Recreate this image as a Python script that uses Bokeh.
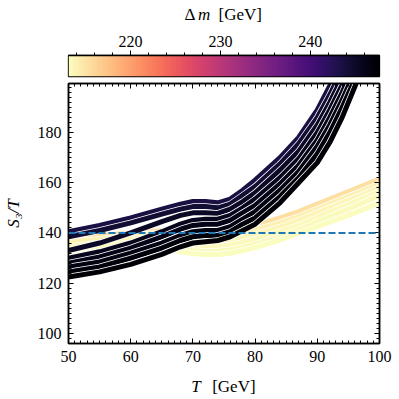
import numpy as np
from bokeh.plotting import figure
from bokeh.models import Range1d, FixedTicker, LinearAxis, Span, LinearColorMapper
from bokeh.core.properties import value
from bokeh.layouts import column
from bokeh.palettes import magma
from bokeh.embed import file_html
from bokeh.resources import INLINE

# ---------------- data ----------------
T = [50, 55, 60, 65, 68, 70, 72, 74, 76, 78, 80, 84, 87, 90, 92, 94, 96, 98, 100]

dm_light = [215.3, 213.9, 213.6, 213.4, 213.2, 213.1]
S3T_light = [
    [138.0, 139.0, 140.0, 141.0, 140.5, 140.0, 140.0, 140.2, 140.8, 141.8, 143.0, 146.0, 148.5, 151.5, 153.5, 155.5, 157.5, 159.5, 161.5],
    [136.5, 137.5, 139.0, 140.0, 139.0, 138.5, 138.3, 138.5, 139.0, 140.0, 141.2, 144.0, 146.5, 149.5, 151.5, 153.5, 155.5, 157.5, 159.5],
    [134.5, 136.0, 137.5, 138.5, 137.3, 136.5, 136.3, 136.5, 137.0, 138.0, 139.3, 142.3, 145.0, 148.0, 150.0, 152.0, 154.0, 156.0, 158.0],
    [133.0, 134.5, 136.0, 137.0, 135.5, 134.8, 134.5, 134.6, 135.2, 136.2, 137.5, 140.5, 143.0, 146.2, 148.3, 150.3, 152.4, 154.5, 156.5],
    [131.0, 132.5, 134.5, 135.5, 133.8, 133.0, 132.7, 132.8, 133.3, 134.3, 135.6, 138.6, 141.3, 144.4, 146.5, 148.5, 150.5, 152.8, 154.8],
    [129.0, 131.0, 133.0, 134.0, 132.5, 131.8, 131.4, 131.4, 131.9, 132.9, 134.2, 137.2, 139.8, 142.5, 144.3, 146.1, 148.0, 150.0, 152.0],
]

dm_dark = [243.5, 244.5, 245.3, 245.8, 246.2, 246.6, 247.0, 247.4]
S3T_dark = [
    [140.5, 143.0, 146.0, 149.5, 151.5, 152.5, 152.5, 152.0, 153.5, 157.0, 161.0, 170.0, 178.0, 189.0, 198.5, 209.0, 220.0, 232.0, 245.0],
    [138.5, 141.0, 144.0, 147.5, 149.5, 150.5, 150.5, 150.0, 151.5, 155.0, 158.5, 167.5, 175.5, 186.0, 195.0, 205.0, 216.0, 228.0, 241.0],
    [133.0, 136.0, 140.0, 144.5, 147.0, 148.0, 148.0, 147.8, 149.5, 152.5, 156.0, 165.0, 172.5, 183.0, 192.0, 202.0, 213.0, 225.0, 238.0],
    [130.0, 132.5, 136.0, 140.5, 143.5, 145.0, 145.5, 145.5, 147.0, 150.0, 153.5, 162.0, 169.5, 180.0, 189.0, 199.0, 210.0, 222.0, 235.0],
    [128.0, 130.5, 134.0, 138.5, 141.5, 143.0, 143.5, 143.5, 145.0, 148.0, 151.0, 159.5, 167.0, 177.0, 186.0, 196.0, 207.0, 219.0, 232.0],
    [126.5, 128.5, 132.0, 136.0, 139.0, 140.5, 141.0, 141.0, 142.5, 145.5, 148.5, 157.0, 164.5, 174.5, 183.0, 193.0, 204.0, 216.0, 229.0],
    [124.5, 126.5, 130.0, 134.0, 137.0, 138.5, 139.0, 139.0, 140.5, 143.5, 146.0, 154.5, 162.0, 171.5, 180.0, 190.0, 201.0, 213.0, 226.0],
    [122.5, 124.5, 127.5, 131.5, 134.5, 136.0, 136.5, 137.0, 138.5, 141.0, 143.5, 152.0, 160.0, 168.0, 176.0, 186.0, 198.0, 211.0, 224.0],
]

threshold = 140
dm_low, dm_high = 213.1, 247.7
T_low, T_high = 50, 100
S_low, S_high = 96, 199.5
cbar_ticks = [220, 230, 240]
cbar_minor = list(range(214, 248, 2))
x_ticks = [50, 60, 70, 80, 90, 100]
x_minor = list(range(50, 101))
y_ticks = [100, 120, 140, 160, 180]
y_minor = list(range(96, 200, 2))

# label pieces (text, style) for the colorbar title and the x-axis title
cbar_title = [("Δ", "normal"), ("m", "italic"), ("[GeV]", "normal")]
x_title = [("T", "italic"), ("[GeV]", "normal")]

FONT = "Liberation Serif"
TICK_FS = "16px"
LAB_FS = "17px"
W = 399

pal = list(reversed(magma(256)))
mapper = LinearColorMapper(palette=pal, low=dm_low, high=dm_high)


def dm_color(dm):
    i = int(round((dm - dm_low) / (dm_high - dm_low) * 255))
    return pal[max(0, min(255, i))]


def text_strip(height, xr, pieces, xs, yc):
    # the column layout aligns this strip's frame with the figures' frames,
    # so the pieces are placed in the same x units as the figure below/above
    s = figure(width=W, height=height, x_range=Range1d(*xr), y_range=Range1d(0, height),
               output_backend="svg", toolbar_location=None, x_axis_location=None,
               y_axis_location=None, min_border=0, min_border_left=65, min_border_right=20,
               min_border_top=0, min_border_bottom=0)
    s.grid.visible = False
    s.outline_line_color = None
    for (txt, style), x in zip(pieces, xs):
        s.text(x=[x], y=[yc], text=[txt], text_font=value(FONT),
               text_font_size=value(LAB_FS), text_font_style=value(style),
               text_baseline="middle", text_align="left", text_color="black")
    return s


# ---------------- colorbar title strip ----------------
top_strip = text_strip(26, (dm_low, dm_high), cbar_title, [226.0, 227.5, 229.8], 12.5)

# ---------------- colorbar figure ----------------
cb = figure(width=W, height=54, x_range=Range1d(dm_low, dm_high), y_range=Range1d(0, 1),
            output_backend="svg", toolbar_location=None, x_axis_location="above",
            y_axis_location=None, min_border_left=65, min_border_right=20,
            min_border_top=29, min_border_bottom=4)
grad = np.linspace(dm_low, dm_high, 256).reshape(1, 256)
cb.image(image=[grad], x=dm_low, y=0, dw=dm_high - dm_low, dh=1, color_mapper=mapper)
cb.grid.visible = False
cb.outline_line_color = "black"
cb.outline_line_width = 1.3
cax = cb.xaxis[0]
cax.ticker = FixedTicker(ticks=cbar_ticks, minor_ticks=cbar_minor)
cax.major_tick_in = 0
cax.major_tick_out = 5
cax.minor_tick_in = 0
cax.minor_tick_out = 3
cax.axis_line_color = "black"
cax.axis_line_width = 1.3
cax.major_label_text_font = FONT
cax.major_label_text_font_size = TICK_FS
cax.major_label_text_color = "black"
cax.major_label_standoff = 4
cax.major_tick_line_color = "black"
cax.minor_tick_line_color = "black"

# ---------------- main figure ----------------
p = figure(width=W, height=293, x_range=Range1d(T_low, T_high), y_range=Range1d(S_low, S_high),
           output_backend="svg", toolbar_location=None,
           min_border_left=65, min_border_right=20, min_border_top=3, min_border_bottom=30)
p.grid.visible = False
p.outline_line_color = "black"
p.outline_line_width = 1.5

for dm, ys in zip(dm_light, S3T_light):
    p.line(T, ys, line_color="white", line_width=6.5, line_join="round", line_cap="round")
    p.line(T, ys, line_color=dm_color(dm), line_width=5, line_join="round", line_cap="round")
for dm, ys in zip(dm_dark, S3T_dark):
    p.line(T, ys, line_color="white", line_width=6.5, line_join="round", line_cap="round")
    p.line(T, ys, line_color=dm_color(dm), line_width=5, line_join="round", line_cap="round")

p.add_layout(Span(location=threshold, dimension="width", line_color="#1f77b4",
                  line_width=2, line_dash="7 3"))


def style_axis(ax, ticks, minor, labels=True):
    ax.ticker = FixedTicker(ticks=ticks, minor_ticks=minor)
    ax.major_tick_in = 5
    ax.major_tick_out = 0
    ax.minor_tick_in = 3
    ax.minor_tick_out = 0
    ax.axis_line_color = "black"
    ax.axis_line_width = 1.5
    ax.major_tick_line_color = "black"
    ax.minor_tick_line_color = "black"
    ax.major_label_text_font = FONT
    ax.major_label_text_font_size = TICK_FS
    if labels:
        ax.major_label_text_color = "black"
        ax.major_label_standoff = 7
    else:
        ax.major_label_text_color = None
        ax.major_label_standoff = 0


style_axis(p.below[0], x_ticks, x_minor)
style_axis(p.left[0], y_ticks, y_minor)
p.left[0].axis_label = "S₃/T"
p.left[0].axis_label_text_font = FONT
p.left[0].axis_label_text_font_size = LAB_FS
p.left[0].axis_label_text_font_style = "italic"
p.left[0].axis_label_text_color = "black"
p.left[0].axis_label_standoff = 12

rax = LinearAxis()
style_axis(rax, y_ticks, y_minor, labels=False)
p.add_layout(rax, "right")
tax = LinearAxis()
style_axis(tax, x_ticks, x_minor, labels=False)
p.add_layout(tax, "above")

# ---------------- x-axis title strip ----------------
bottom_strip = text_strip(26, (T_low, T_high), x_title, [69.75, 73.1], 13)

layout = column(top_strip, cb, p, bottom_strip)
open("out.html", "w").write(file_html(layout, INLINE))
